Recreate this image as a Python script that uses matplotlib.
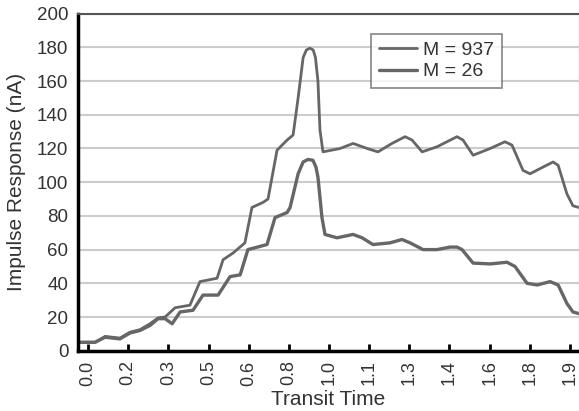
import matplotlib
matplotlib.use("Agg")
import matplotlib.pyplot as plt

plt.rcParams['font.family'] = ['Liberation Sans', 'DejaVu Sans']

# M = 937 series
t_937 = [-0.04, 0.028, 0.068, 0.127, 0.167, 0.207, 0.247, 0.279, 0.307, 0.347,
         0.406, 0.446, 0.514, 0.538, 0.578, 0.625, 0.653, 0.697, 0.717, 0.753,
         0.793, 0.817, 0.837, 0.857, 0.870, 0.884, 0.897, 0.906, 0.916, 0.924,
         0.936, 1.004, 1.056, 1.112, 1.155, 1.211, 1.263, 1.291, 1.331, 1.390,
         1.470, 1.494, 1.534, 1.602, 1.661, 1.689, 1.733, 1.761, 1.813, 1.853,
         1.873, 1.908, 1.932, 1.956]
y_937 = [5, 5, 8.5, 7.5, 11, 12.5, 16, 19.5, 20, 25.5,
         27, 41, 43, 54, 58, 64, 85, 88, 90, 119,
         125, 128, 150, 174, 178.5, 179.5, 178.5, 174, 160, 131,
         118, 120, 123, 120, 118, 123, 127, 125, 118, 121,
         127, 125, 116, 120, 124, 122, 107, 105, 109, 112,
         110, 93, 86, 85]

# M = 26 series
t_26 = [-0.04, 0.028, 0.068, 0.127, 0.167, 0.207, 0.247, 0.279, 0.307, 0.335,
        0.367, 0.418, 0.458, 0.518, 0.566, 0.606, 0.637, 0.713, 0.745, 0.793,
        0.805, 0.837, 0.857, 0.876, 0.896, 0.908, 0.916, 0.932, 0.944, 0.992,
        1.056, 1.092, 1.135, 1.203, 1.251, 1.283, 1.335, 1.390, 1.442, 1.470,
        1.490, 1.534, 1.602, 1.669, 1.701, 1.749, 1.789, 1.841, 1.873, 1.908,
        1.932, 1.956]
y_26 = [5, 5, 8, 7, 10.5, 12, 15, 19, 19, 16,
        23, 24, 33, 33, 44, 45, 60, 63, 79, 82,
        85, 105, 112, 113.5, 113, 109, 103, 79, 69, 67,
        69, 67, 63, 64, 66, 64, 60, 60, 61.5, 61.5,
        60, 52, 51.5, 52.5, 50, 40, 39, 41, 39, 28,
        23, 22]

x_ticks = [0.0, 0.16, 0.32, 0.48, 0.64, 0.80, 0.96, 1.12, 1.28, 1.44, 1.60, 1.76, 1.92]
x_tick_labels = ['0.0', '0.2', '0.3', '0.5', '0.6', '0.8', '1.0', '1.1', '1.3', '1.4', '1.6', '1.8', '1.9']
y_ticks = [0, 20, 40, 60, 80, 100, 120, 140, 160, 180, 200]

fig = plt.figure(figsize=(5.79, 4.11), dpi=100)
ax = fig.add_axes([0.1347, 0.1467, 0.8653, 0.82])

line_color = '#666666'
ax.plot(t_937, y_937, color=line_color, lw=2.0, label='M = 937',
        solid_joinstyle='round', solid_capstyle='round')
ax.plot(t_26, y_26, color=line_color, lw=2.4, label='M = 26',
        solid_joinstyle='round', solid_capstyle='round')

ax.set_xlim(-0.04, 1.956)
ax.set_ylim(0, 200)
ax.set_yticks(y_ticks)
ax.set_yticklabels([str(v) for v in y_ticks], fontsize=13.5, color='#333333')
ax.set_xticks(x_ticks)
ax.set_xticklabels(x_tick_labels, rotation=90, fontsize=13, color='#333333')

ax.tick_params(axis='y', length=0, pad=7)
ax.tick_params(axis='x', direction='in', length=5, width=2, color='black', pad=7)

ax.yaxis.grid(True, color='#cccccc', lw=1.5)
ax.set_axisbelow(True)

ax.spines['left'].set_color('black')
ax.spines['left'].set_linewidth(2.5)
ax.spines['bottom'].set_color('black')
ax.spines['bottom'].set_linewidth(2.5)
ax.spines['top'].set_color('#555555')
ax.spines['top'].set_linewidth(1.5)
ax.spines['right'].set_color('#cccccc')
ax.spines['right'].set_linewidth(1.0)

ax.set_xlabel('Transit Time', fontsize=15, color='#333333', labelpad=3)
ax.set_ylabel('Impulse Response (nA)', fontsize=15, color='#333333', labelpad=8)

leg = ax.legend(loc='upper left', bbox_to_anchor=(0.565, 0.97), fontsize=14,
                frameon=True, fancybox=False, edgecolor='#666666',
                handlelength=2.0, handletextpad=0.3, labelspacing=0.2,
                borderpad=0.4, labelcolor='#333333')
leg.get_frame().set_linewidth(1.2)

fig.savefig('out.png', dpi=100)
